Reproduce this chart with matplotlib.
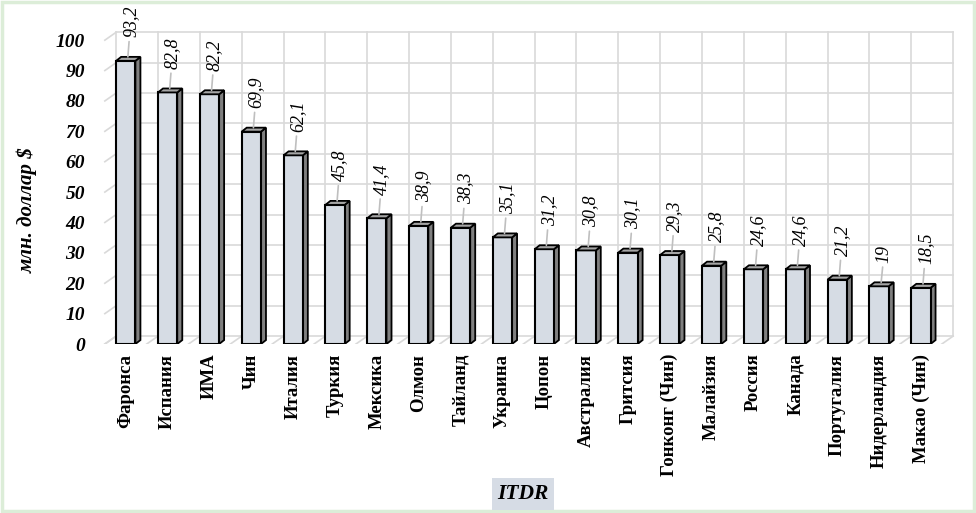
import matplotlib
matplotlib.use("Agg")
from matplotlib import pyplot as plt
from matplotlib.patches import Polygon, Rectangle

countries = ["Фаронса", "Испания", "ИМА", "Чин", "Италия", "Туркия", "Мексика",
             "Олмон", "Тайланд", "Украина", "Цопон", "Австралия", "Гритсия",
             "Гонконг (Чин)", "Малайзия", "Россия", "Канада", "Португалия",
             "Нидерландия", "Макао (Чин)"]
values = [93.2, 82.8, 82.2, 69.9, 62.1, 45.8, 41.4, 38.9, 38.3, 35.1, 31.2,
          30.8, 30.1, 29.3, 25.8, 24.6, 24.6, 21.2, 19, 18.5]
y_ticks = list(range(0, 101, 10))

SERIF = "Liberation Serif"
front_col = "#d6dce4"
side_col = "#7f7f7f"
top_col = "#a5a5a5"
grid_col = "#d9d9d9"

fig = plt.figure(figsize=(9.76, 5.13), dpi=100)
ax = fig.add_axes([0.104, 0.3294, 0.876, 0.616])
ax.set_xlim(-0.58, 19.85)
ax.set_ylim(0, 104)
for s in ax.spines.values():
    s.set_visible(False)

# fake 3D: labels sit on the front edge, gridlines on the back wall
back_off = 2.6
dx = 0.27
n = len(values)
for lvl in y_ticks:
    yb = back_off + lvl
    ax.plot([-0.5 + dx, n - 0.5 + dx], [yb, yb], color=grid_col, lw=1.2, zorder=1)
    ax.plot([-0.5, -0.5 + dx], [lvl, yb], color=grid_col, lw=1.2, zorder=1)
for k in range(n + 1):
    ax.plot([k - 0.5 + dx] * 2, [back_off, back_off + 100], color=grid_col, lw=1.2, zorder=1)
    ax.plot([k - 0.5, k - 0.5 + dx], [0, back_off], color=grid_col, lw=1.2, zorder=1)

# bars with side and top faces
w, sx, sy = 0.46, 0.12, 1.3
xs = list(range(n))
ax.bar(xs, values, width=w, color=front_col, edgecolor="black", linewidth=1.5, zorder=4)
for x, v in zip(xs, values):
    r = x + w / 2
    l = x - w / 2
    side = Polygon([(r, 0), (r + sx, sy), (r + sx, v + sy), (r, v)], closed=True,
                   facecolor=side_col, edgecolor="black", lw=1.3, zorder=3)
    top = Polygon([(l, v), (l + sx, v + sy), (r + sx, v + sy), (r, v)], closed=True,
                  facecolor=top_col, edgecolor="black", lw=1.3, zorder=5)
    ax.add_patch(side)
    ax.add_patch(top)
    ax.annotate(("%g" % v).replace(".", ","), xy=(x + 0.05, v + sy), xytext=(2, 14),
                textcoords="offset points", rotation=90, ha="center", va="bottom",
                fontsize=13, family=SERIF, style="italic",
                arrowprops=dict(arrowstyle="-", color="#bfbfbf", lw=1.2, shrinkA=1, shrinkB=0),
                zorder=6, annotation_clip=False)

ax.set_yticks(y_ticks)
ax.set_yticklabels([str(t) for t in y_ticks], family=SERIF, fontsize=14,
                   fontweight="bold", style="italic")
ax.set_xticks(xs)
ax.set_xticklabels(countries, rotation=90, family=SERIF, fontsize=13.5, fontweight="bold")
ax.tick_params(axis="y", length=0, pad=12)
ax.tick_params(axis="x", length=0, pad=7)

fig.text(0.028, 0.59, "млн. доллар $", rotation=90, ha="center", va="center",
         family=SERIF, fontsize=15, fontweight="bold", style="italic")
fig.text(0.536, 0.037, "ITDR", ha="center", va="center", family=SERIF, fontsize=15.5,
         fontweight="bold", style="italic",
         bbox=dict(facecolor="#d6dce5", edgecolor="none", pad=4))

# light green frame around the chart
fig.patches.append(Rectangle((0.002, 0.003), 0.996, 0.994, transform=fig.transFigure,
                             fill=False, edgecolor="#dcedd8", lw=2.5))

fig.savefig("out.png", dpi=100)
